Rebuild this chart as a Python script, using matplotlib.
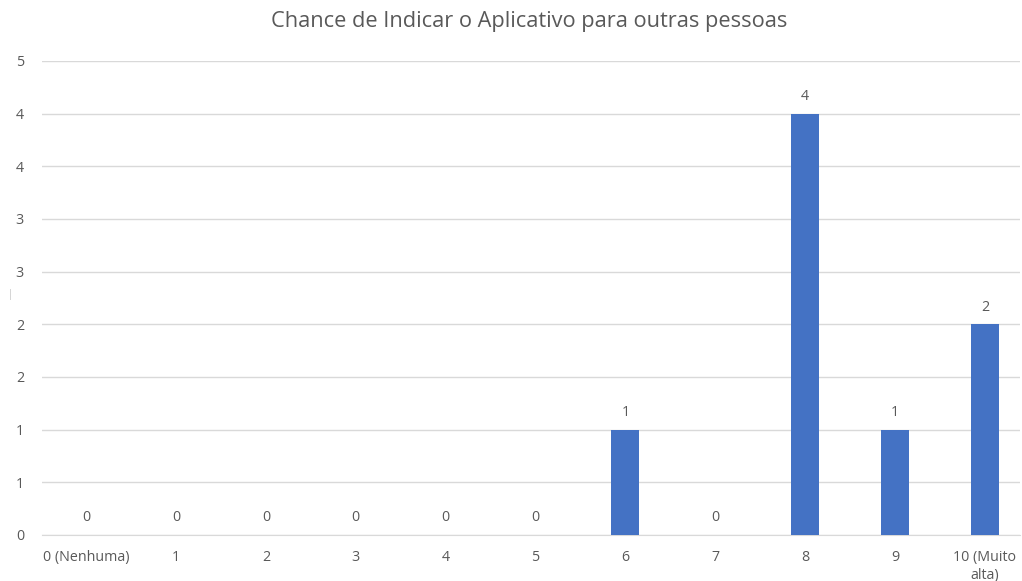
import matplotlib
matplotlib.use('Agg')
import matplotlib.pyplot as plt
import matplotlib.ticker as ticker
import math

#%% Data

categories = ['0 (Nenhuma)', '1', '2', '3', '4', '5', '6', '7', '8', '9', '10 (Muito\nalta)']
counts = [0, 0, 0, 0, 0, 0, 1, 0, 4, 1, 2]
title = 'Chance de Indicar o Aplicativo para outras pessoas'

#%% Style

BAR_COLOR = '#4472C4'
TEXT_COLOR = '#595959'
GRID_COLOR = '#D9D9D9'
plt.rcParams['font.family'] = ['Open Sans', 'DejaVu Sans']

#%% Figure

dpi = 100
fig = plt.figure(figsize=(10.22, 5.81), dpi=dpi)
ax = fig.add_axes([42 / 1022, 46 / 581, (1020 - 42) / 1022, (535 - 61) / 581])

x = list(range(len(categories)))
bars = ax.bar(x, counts, width=0.31, color=BAR_COLOR, zorder=3)

# Value labels above each bar (zeros included)
for xi, v in zip(x, counts):
    ax.annotate('{}'.format(v), (xi, v), xytext=(0, 7), textcoords='offset points',
                ha='center', va='bottom', fontsize=10.3, color=TEXT_COLOR)

ax.set_xlim(-0.49, 10.39)
ax.set_ylim(0, 4.5)

# Gridlines every half unit, labels rounded half-up to whole numbers
ax.yaxis.set_major_locator(ticker.MultipleLocator(0.5))
ax.yaxis.set_major_formatter(ticker.FuncFormatter(lambda v, pos: '{}'.format(int(math.floor(v + 0.5)))))
ax.grid(axis='y', color=GRID_COLOR, linewidth=1, zorder=0)

ax.set_xticks(x)
ax.set_xticklabels(categories, fontsize=10.3, color=TEXT_COLOR, linespacing=1.25)
ax.tick_params(axis='x', length=0, pad=11)
ax.tick_params(axis='y', length=0, pad=13, labelsize=10.3, labelcolor=TEXT_COLOR)

for side in ['top', 'right', 'left']:
    ax.spines[side].set_visible(False)
ax.spines['bottom'].set_color(GRID_COLOR)

fig.text(529 / 1022, 1 - 22 / 581, title, ha='center', va='center',
         fontsize=15.7, color=TEXT_COLOR)

# Cropped axis title remnant on the left edge
fig.text(10 / 1022, 1 - 295 / 581, '|', ha='center', va='center',
         fontsize=7, color='#BFBFBF')

plt.savefig('out.png', dpi=dpi, facecolor='white')
